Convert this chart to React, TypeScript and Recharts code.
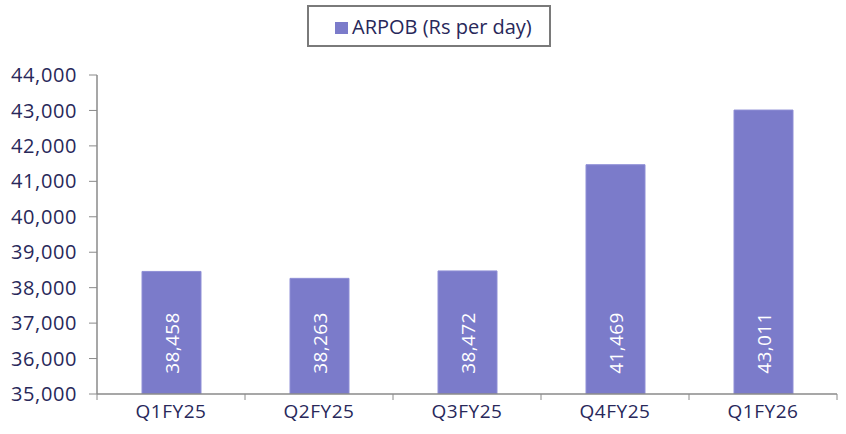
import React from "react";
import { BarChart, Bar, XAxis, YAxis, LabelList } from "recharts";

const quarters = ["Q1FY25", "Q2FY25", "Q3FY25", "Q4FY25", "Q1FY26"];
const arpob = [38458, 38263, 38472, 41469, 43011];
const yTicks = [35000, 36000, 37000, 38000, 39000, 40000, 41000, 42000, 43000, 44000];

const data = quarters.map((q, i) => ({ quarter: q, arpob: arpob[i] }));

const FONT = "'Open Sans', sans-serif";
const INK = "#28285a";
const BAR = "#7b7bca";
const AXIS = "#8a8a8a";

const W = 846;
const H = 434;
const MARGIN = { top: 75, right: 9, bottom: 0, left: 0 };
const Y_WIDTH = 97;
const X_HEIGHT = 40;
const BAND = (W - MARGIN.left - MARGIN.right - Y_WIDTH) / quarters.length;

const fmt = (v: number) => v.toLocaleString("en-US");

const XTick = (props: any) => {
    const { x, y, payload, index } = props;
    const left = x - BAND / 2;
    return (
        <g>
            <line x1={left} y1={y - 8} x2={left} y2={y - 2} stroke={AXIS} />
            {index === quarters.length - 1 && (
                <line x1={x + BAND / 2} y1={y - 8} x2={x + BAND / 2} y2={y - 2} stroke={AXIS} />
            )}
            <text x={x} y={y + 16} textAnchor="middle" fill={INK} fontSize={19} letterSpacing={0.5} fontFamily={FONT}>
                {payload.value}
            </text>
        </g>
    );
};

const BarValue = (props: any) => {
    const { x, y, width, height, value } = props;
    const cx = x + width / 2;
    const cy = y + height - 51;
    return (
        <text
            x={cx}
            y={cy}
            transform={`rotate(-90 ${cx} ${cy})`}
            textAnchor="middle"
            dominantBaseline="central"
            fill="#ffffff"
            fontSize={19}
            letterSpacing={0.4}
            fontFamily={FONT}
        >
            {fmt(value)}
        </text>
    );
};

const LegendBox = () => (
    <div
        style={{
            position: "absolute",
            left: 307,
            top: 5,
            width: 244,
            height: 42,
            border: "2px solid #7a7a7a",
            boxSizing: "border-box",
            display: "flex",
            alignItems: "center",
            paddingLeft: 26,
            fontFamily: FONT,
            fontSize: 20,
            color: INK,
            whiteSpace: "nowrap",
        }}
    >
        <span style={{ width: 13, height: 12, background: BAR, marginRight: 4, display: "inline-block", marginTop: 4 }} />
        ARPOB (Rs per day)
    </div>
);

export default function App() {
    return (
        <div style={{ position: "absolute", left: 0, top: 0, width: W, height: H, background: "#fff" }}>
            <BarChart width={W} height={H} data={data} margin={MARGIN}>
                <XAxis
                    dataKey="quarter"
                    height={X_HEIGHT}
                    tickLine={false}
                    axisLine={{ stroke: AXIS, strokeWidth: 1.5 }}
                    tick={<XTick />}
                    interval={0}
                />
                <YAxis
                    domain={[35000, 44000]}
                    ticks={yTicks}
                    allowDataOverflow
                    width={Y_WIDTH}
                    tickFormatter={fmt}
                    tickSize={8}
                    tickMargin={12}
                    tickLine={{ stroke: AXIS }}
                    axisLine={{ stroke: AXIS, strokeWidth: 1.5 }}
                    tick={{ fill: INK, fontSize: 20, letterSpacing: 0.6, fontFamily: FONT }}
                />
                <Bar dataKey="arpob" fill={BAR} stroke="#8f8fd6" strokeWidth={1} barSize={59} isAnimationActive={false}>
                    <LabelList dataKey="arpob" content={<BarValue />} />
                </Bar>
            </BarChart>
            <LegendBox />
        </div>
    );
}
